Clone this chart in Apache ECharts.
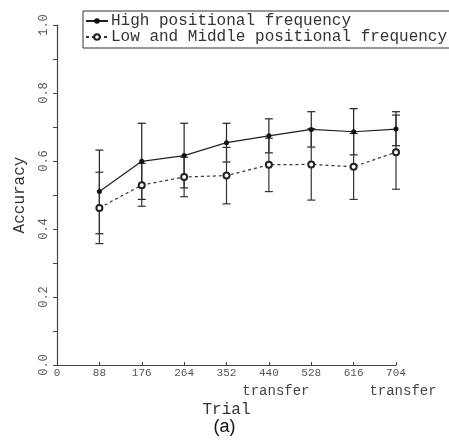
<!DOCTYPE html>
<html>
<head>
<meta charset="utf-8">
<script src="https://cdn.jsdelivr.net/npm/echarts@6/dist/echarts.min.js"></script>
<style>
  html, body { margin: 0; padding: 0; background: #fff; }
  #chart { width: 449px; height: 441px; }
</style>
</head>
<body>
<div id="chart"></div>
<script>
// trials (x) and accuracy values
const trials = [88, 176, 264, 352, 440, 528, 616, 704]
const transferTrials = [440, 704]

const highMean = [0.510, 0.599, 0.616, 0.654, 0.674, 0.693, 0.686, 0.694]
const highLower = [0.386, 0.487, 0.521, 0.597, 0.624, 0.641, 0.618, 0.645]
const highUpper = [0.632, 0.711, 0.711, 0.711, 0.724, 0.745, 0.754, 0.745]

const lowMean = [0.462, 0.529, 0.553, 0.557, 0.589, 0.590, 0.583, 0.626]
const lowLower = [0.357, 0.467, 0.495, 0.474, 0.510, 0.485, 0.487, 0.517]
const lowUpper = [0.567, 0.593, 0.611, 0.640, 0.667, 0.695, 0.681, 0.735]

const highName = 'High positional frequency'
const lowName = 'Low and Middle positional frequency'

const mono = 'Liberation Mono'
const axisColor = '#444'

// error bar: vertical line with small caps
const errorBar = (lower, upper, color) => ({
    type: 'custom',
    silent: true,
    data: trials.map((t, i) => [t, lower[i], upper[i]]),
    renderItem: (params, api) => {
        const top = api.coord([api.value(0), api.value(2)])
        const bottom = api.coord([api.value(0), api.value(1)])
        const w = 4
        const style = { stroke: color, lineWidth: 1.2 }
        return {
            type: 'group',
            children: [
                { type: 'line', shape: { x1: top[0], y1: top[1], x2: bottom[0], y2: bottom[1] }, style },
                { type: 'line', shape: { x1: top[0] - w, y1: top[1], x2: top[0] + w, y2: top[1] }, style },
                { type: 'line', shape: { x1: bottom[0] - w, y1: bottom[1], x2: bottom[0] + w, y2: bottom[1] }, style },
            ],
        }
    },
    z: 1,
})

const chart = echarts.init(document.getElementById('chart'))
chart.setOption({
    animation: false,
    backgroundColor: '#fff',
    title: {
        text: '(a)',
        left: 'center',
        top: 413,
        textStyle: { fontFamily: 'Liberation Sans', fontSize: 18, fontWeight: 'normal', color: '#111' },
    },
    legend: {
        data: [highName, lowName],
        orient: 'vertical',
        left: 83,
        top: 11,
        padding: [2, 20, 3, 2],
        itemGap: 0,
        itemWidth: 22,
        itemHeight: 7,
        borderColor: '#333',
        borderWidth: 1,
        textStyle: { fontFamily: mono, fontSize: 16, color: '#333', lineHeight: 14, padding: [0, 0, 0, -2] },
    },
    grid: { left: 57, top: 25, right: 53, bottom: 76 },
    xAxis: [
        {
            type: 'value',
            min: 0,
            max: 704,
            interval: 88,
            name: 'Trial',
            nameLocation: 'middle',
            nameGap: 37,
            nameMoveOverlap: false,
            nameTextStyle: { fontFamily: mono, fontSize: 16, color: '#333' },
            splitLine: { show: false },
            axisLine: { lineStyle: { color: axisColor, width: 1.2 } },
            axisTick: { inside: true, length: 3, lineStyle: { color: axisColor } },
            axisLabel: {
                margin: 3,
                showMinLabel: true,
                showMaxLabel: true,
                fontFamily: mono,
                fontSize: 11,
                color: '#555',
            },
        },
        {
            // second label row: "transfer" under the transfer trials
            type: 'value',
            position: 'bottom',
            min: 0,
            max: 704,
            interval: 88,
            splitLine: { show: false },
            axisLine: { show: false },
            axisTick: { show: false },
            axisLabel: {
                margin: 19,
                showMinLabel: true,
                showMaxLabel: true,
                fontFamily: mono,
                fontSize: 14,
                color: '#444',
                padding: [0, 0, 0, 14],
                formatter: (v) => transferTrials.includes(v) ? 'transfer' : '',
            },
        },
    ],
    yAxis: {
        type: 'value',
        min: 0,
        max: 1,
        interval: 0.2,
        name: 'Accuracy',
        nameLocation: 'middle',
        nameGap: 29,
        nameMoveOverlap: false,
        nameTextStyle: { fontFamily: mono, fontSize: 16, color: '#333' },
        splitLine: { show: false },
        axisLine: { show: true, lineStyle: { color: axisColor, width: 1.2 } },
        axisTick: { show: true, length: 4, lineStyle: { color: axisColor } },
        minorTick: { show: true, splitNumber: 2, length: 4, lineStyle: { color: axisColor } },
        axisLabel: {
            rotate: 90,
            margin: 7,
            fontFamily: mono,
            fontSize: 12,
            color: '#555',
            formatter: (v) => v.toFixed(1),
        },
    },
    series: [
        errorBar(highLower, highUpper, '#222'),
        errorBar(lowLower, lowUpper, '#333'),
        {
            name: highName,
            type: 'line',
            data: trials.map((t, i) => [t, highMean[i]]),
            symbol: 'circle',
            symbolSize: 5,
            itemStyle: { color: '#111' },
            lineStyle: { color: '#222', width: 1.2, type: 'solid' },
            z: 3,
        },
        {
            name: lowName,
            type: 'line',
            data: trials.map((t, i) => [t, lowMean[i]]),
            symbol: 'emptyCircle',
            symbolSize: 6,
            itemStyle: { color: '#222', borderWidth: 1.2 },
            lineStyle: { color: '#333', width: 1.2, type: [3, 3] },
            z: 3,
        },
    ],
})
</script>
</body>
</html>
